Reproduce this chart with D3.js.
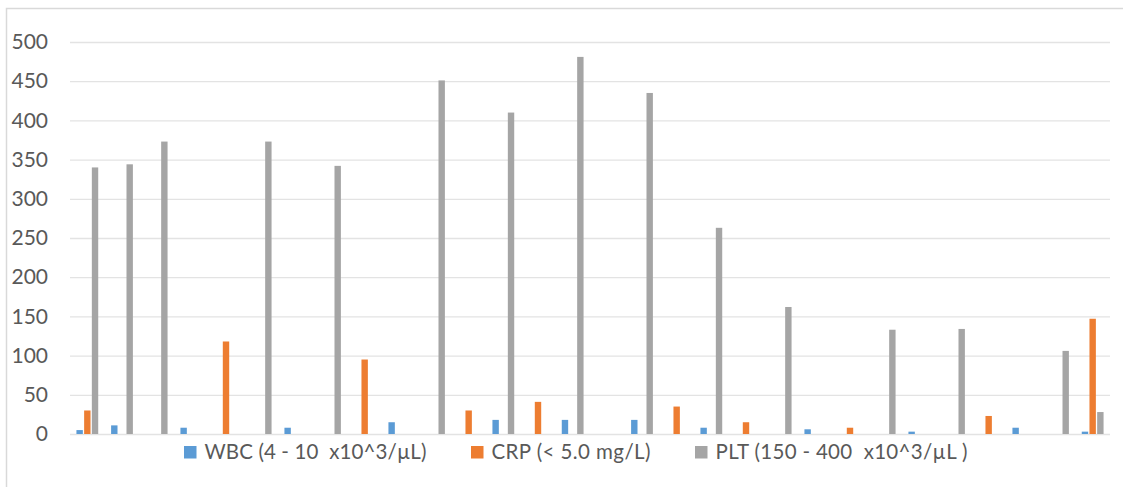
<!DOCTYPE html>
<html>
<head>
<meta charset="utf-8">
<script src="https://cdn.jsdelivr.net/npm/d3@7"></script>
<style>
  html, body { margin: 0; padding: 0; background: #ffffff; }
  svg { display: block; }
  text { font-family: Lato, "Open Sans", "Liberation Sans", sans-serif; fill: #595959; white-space: pre; }
</style>
</head>
<body>
<svg id="chart" width="1123" height="487"></svg>
<script>
// ---- data ----
const categories = ["1","2","3","4","5","6","7","8","9","10","11","12","13","14","15",
                    "16","17","18","19","20","21","22","23","24","25","26","27","28","29","30"];
const seriesNames = ["WBC (4 - 10  x10^3/\u00b5L)", "CRP (< 5.0 mg/L)", "PLT (150 - 400  x10^3/\u00b5L )"];
const wbc = [5, 11, null, 8, null, null, 8, null, null, 15, null, null, 18, null, 18, null, 18, null, 8, null, null, 6, null, null, 3, null, null, 8, null, 3];
const crp = [30, null, null, null, 118, null, null, null, 95, null, null, 30, null, 41, null, null, null, 35, null, 15, null, null, 8, null, null, null, 23, null, null, 147];
const plt = [340, 344, 373, null, null, 373, null, 342, null, null, 451, null, 410, null, 481, null, 435, null, 263, null, 162, null, null, 133, null, 134, null, null, 106, 28];
const yTicks = [0, 50, 100, 150, 200, 250, 300, 350, 400, 450, 500];
const colors = ["#5B9BD5", "#ED7D31", "#A5A5A5"];

// ---- layout ----
const svg = d3.select("#chart");
const W = 1123, H = 487;
const plot = { left: 70, right: 1110, top: 42, bottom: 434 };

// chart area border (cut off at right and bottom like the reference)
svg.append("rect")
  .attr("x", 6.5).attr("y", 8.5)
  .attr("width", W + 20).attr("height", H + 20)
  .attr("fill", "#fff").attr("stroke", "#d9d9d9").attr("stroke-width", 1.5);

const x0 = d3.scaleBand().domain(categories)
  .range([plot.left, plot.right]).paddingInner(0.334).paddingOuter(0.167);
const keys = [0, 1, 2];
const x1 = d3.scaleBand().domain(keys).range([0, x0.bandwidth()]).padding(0);
const y = d3.scaleLinear().domain([0, 500]).range([plot.bottom, plot.top]);

// gridlines
svg.append("g")
  .attr("transform", `translate(${plot.left},0)`)
  .call(d3.axisLeft(y).tickValues(yTicks).tickSize(-(plot.right - plot.left)).tickFormat(""))
  .call(g => g.select(".domain").remove())
  .call(g => g.selectAll(".tick line").attr("stroke", "#e3e3e3").attr("stroke-width", 1.3));

// y labels
svg.append("g")
  .attr("transform", `translate(48,0)`)
  .call(d3.axisLeft(y).tickValues(yTicks).tickSize(0).tickPadding(0))
  .call(g => g.select(".domain").remove())
  .call(g => g.selectAll(".tick text")
     .attr("font-size", "21px").attr("fill", "#595959")
     .style("font-family", "Lato, 'Open Sans', sans-serif"));

// bars
const series = [wbc, crp, plt];
const rows = [];
categories.forEach((c, i) => {
  keys.forEach(k => {
    const v = series[k][i];
    if (v !== null && v !== undefined) rows.push({ c, k, v });
  });
});
const inset = 0.65;
svg.append("g").selectAll("rect").data(rows).join("rect")
  .attr("x", d => x0(d.c) + x1(d.k) + inset)
  .attr("width", x1.bandwidth() - 2 * inset)
  .attr("y", d => y(d.v))
  .attr("height", d => y(0) - y(d.v))
  .attr("fill", d => colors[d.k]);

// legend
const legend = svg.append("g");
const fontSize = 20.5;
const legendTextWidths = [222, 159, 252];
let cursor = 184;
const legY = 452;
seriesNames.forEach((name, k) => {
  const item = legend.append("g");
  item.append("rect")
    .attr("x", cursor).attr("y", legY - 6)
    .attr("width", 12.5).attr("height", 12.5)
    .attr("fill", colors[k]);
  item.append("text")
    .attr("x", cursor + 20.5).attr("y", legY)
    .attr("dy", "0.35em")
    .attr("font-size", fontSize + "px")
    .attr("textLength", legendTextWidths[k])
    .attr("lengthAdjust", "spacing")
    .text(name);
  cursor = cursor + 20.5 + legendTextWidths[k] + 44.5;
});
</script>
</body>
</html>
